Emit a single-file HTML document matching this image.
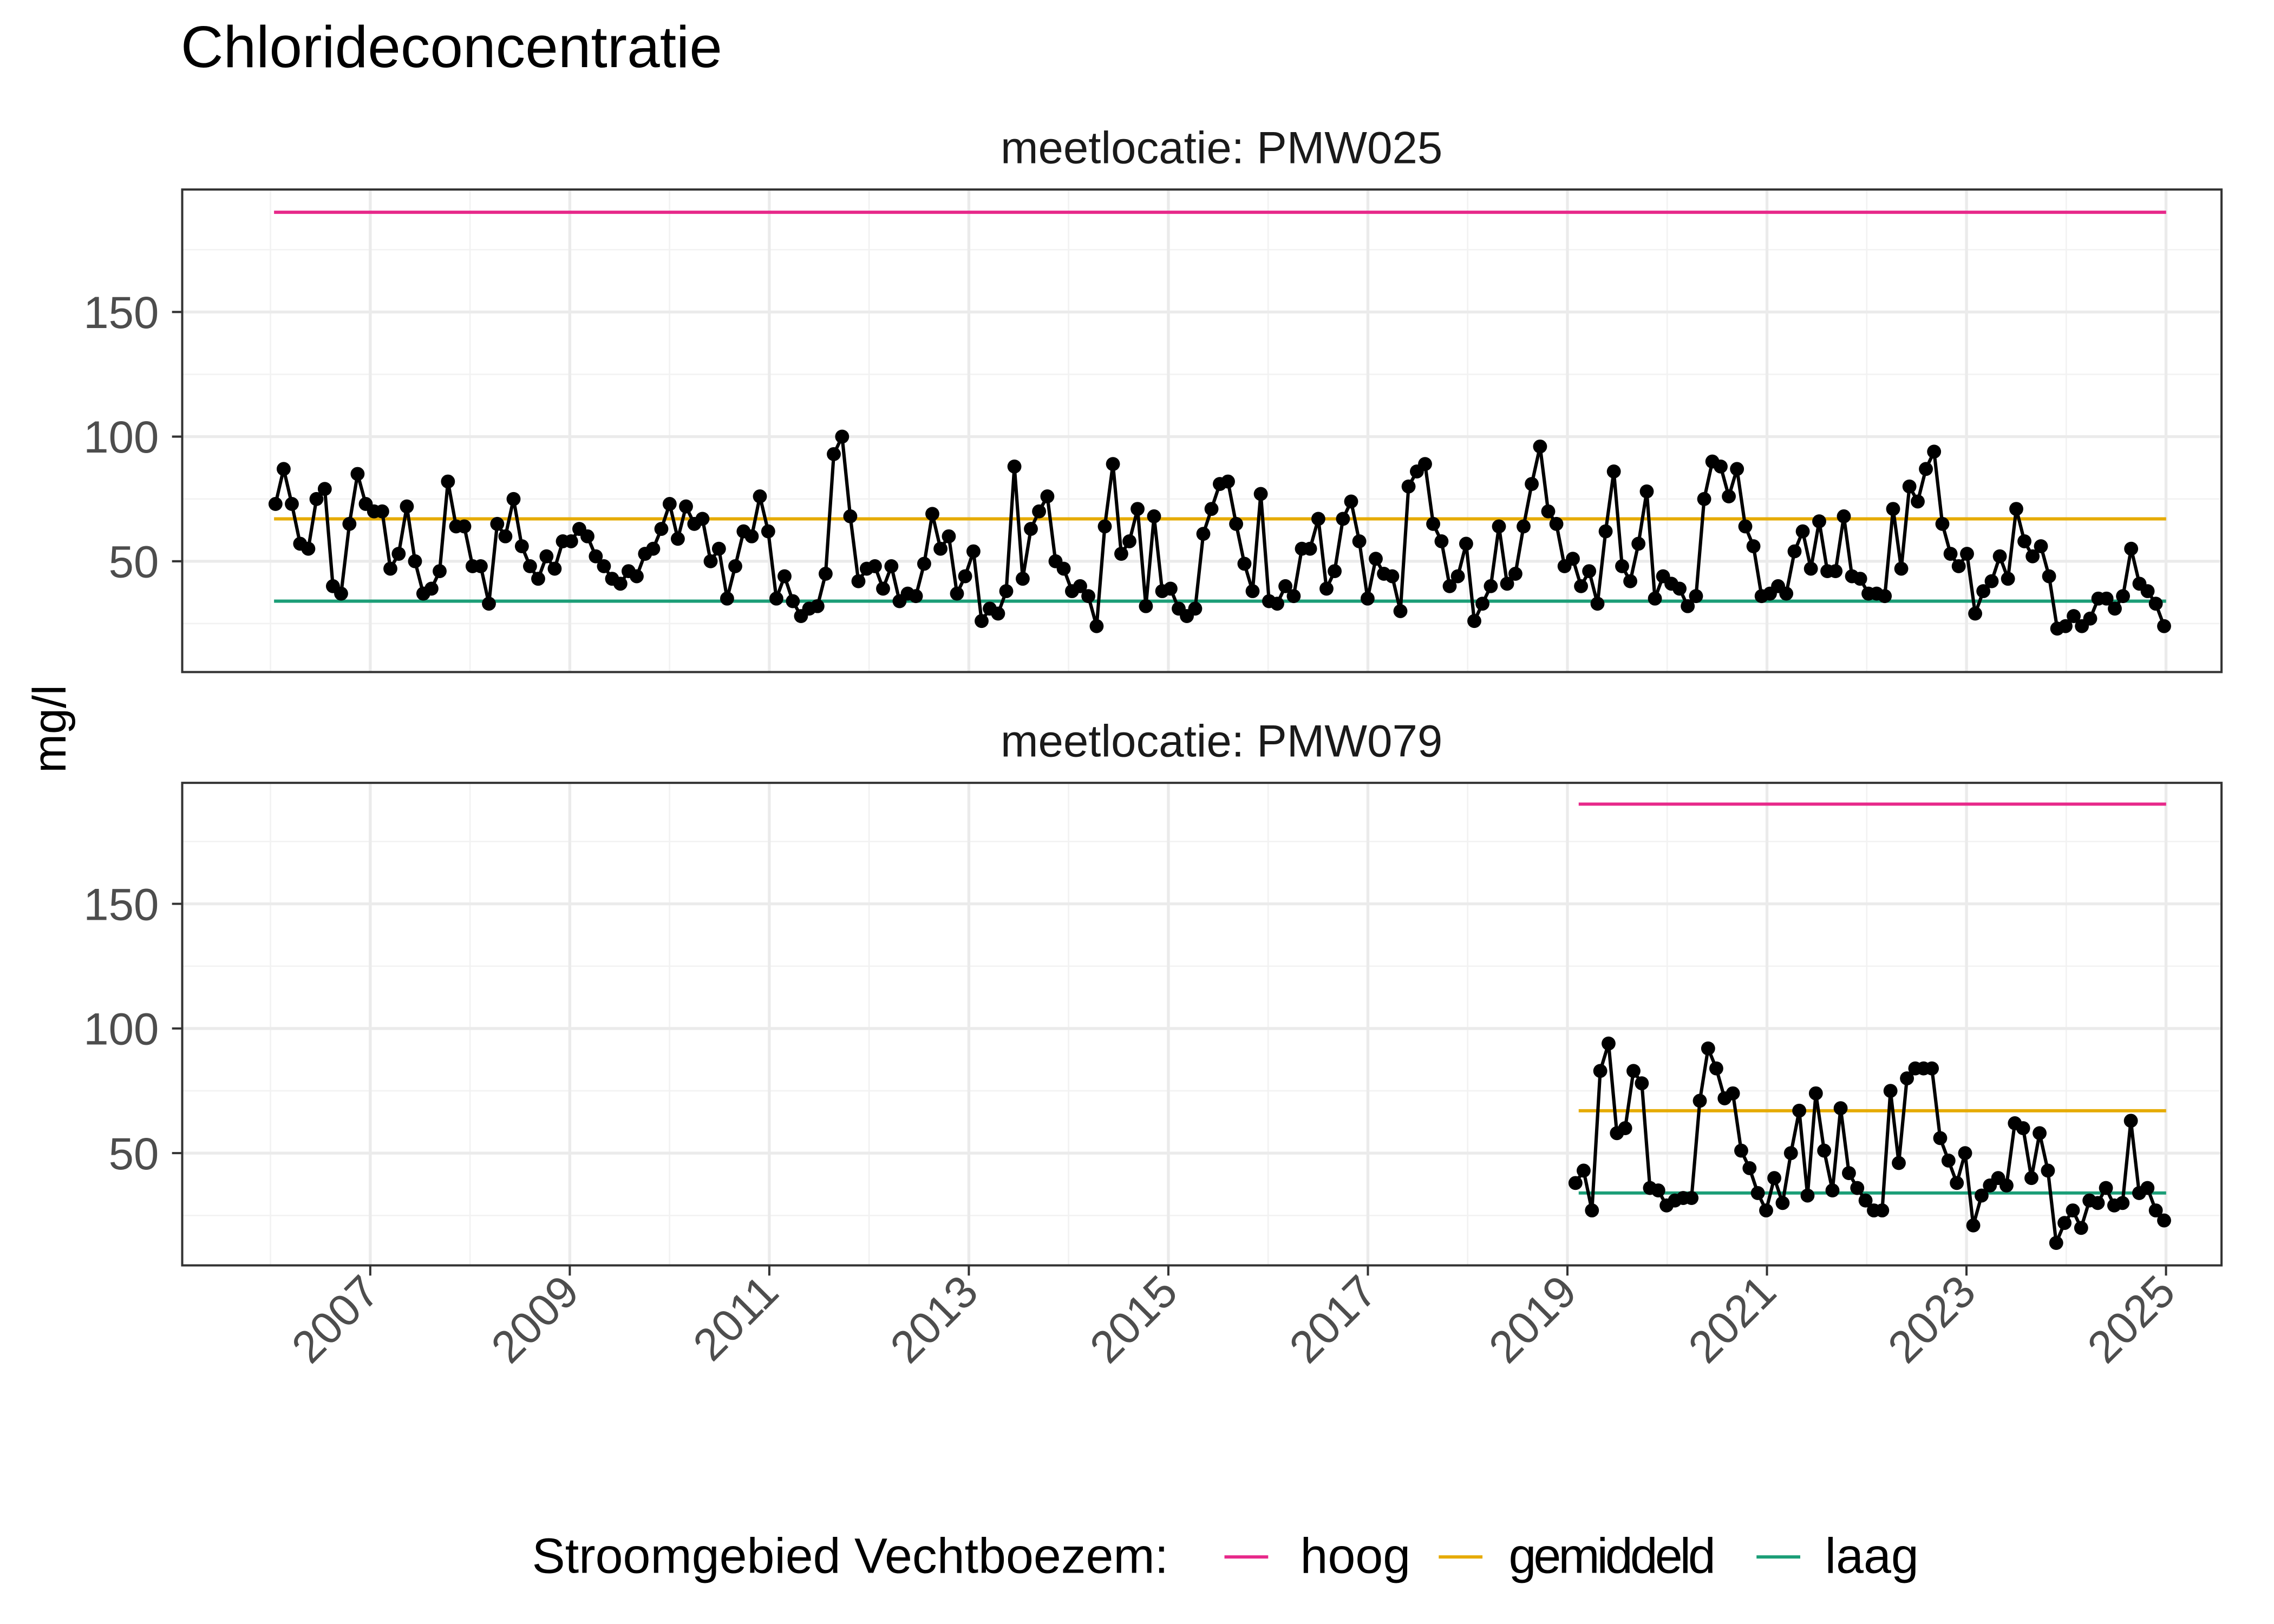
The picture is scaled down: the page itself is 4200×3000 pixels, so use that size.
<!DOCTYPE html>
<html><head><meta charset="utf-8"><style>html,body{margin:0;padding:0;background:#fff}svg{display:block}</style></head>
<body>
<svg id="s" width="4200" height="3000" viewBox="0 0 1560 1114" preserveAspectRatio="none" xmlns="http://www.w3.org/2000/svg" font-family="Liberation Sans, sans-serif">
<rect width="1560" height="1114" fill="#fff"/>
<text x="124" y="46" font-size="40.5" fill="#000">Chlorideconcentratie</text>
<text x="838" y="112" font-size="31" text-anchor="middle" fill="#1a1a1a">meetlocatie: PMW025</text>
<text x="838" y="519" font-size="31" text-anchor="middle" fill="#1a1a1a">meetlocatie: PMW079</text>
<text transform="translate(45,500) rotate(-90)" font-size="32" text-anchor="middle" fill="#000">mg/l</text>
<g id="g"></g>
<g font-size="34" fill="#000">
<text x="365" y="1079">Stroomgebied Vechtboezem:</text>
<line x1="840" y1="1068" x2="870" y2="1068" stroke="#e7298a" stroke-width="2.2"/><text x="892" y="1079">hoog</text>
<line x1="987" y1="1068" x2="1017" y2="1068" stroke="#e6ab02" stroke-width="2.2"/><text x="1035" y="1079" textLength="142">gemiddeld</text>
<line x1="1205" y1="1068" x2="1235" y2="1068" stroke="#1b9e77" stroke-width="2.2"/><text x="1252" y="1079">laag</text>
</g>
</svg>
<script>
var g=document.getElementById('g'),h='';
function X(t){return 254+(t-2007)*68.44;}
var P=[{top:130,bot:461,off:0},{top:537,bot:868,off:406}];
var d1=[73,87,73,57,55,75,79,40,37,65,85,73,70,70,47,53,72,50,37,39,46,82,64,64,48,48,33,65,60,75,56,48,43,52,47,58,58,63,60,52,48,43,41,46,44,53,55,63,73,59,72,65,67,50,55,35,48,62,60,76,62,35,44,34,28,31,32,45,93,100,68,42,47,48,39,48,34,37,36,49,69,55,60,37,44,54,26,31,29,38,88,43,63,70,76,50,47,38,40,36,24,64,89,53,58,71,32,68,38,39,31,28,31,61,71,81,82,65,49,38,77,34,33,40,36,55,55,67,39,46,67,74,58,35,51,45,44,30,80,86,89,65,58,40,44,57,26,33,40,64,41,45,64,81,96,70,65,48,51,40,46,33,62,86,48,42,57,78,35,44,41,39,32,36,75,90,88,76,87,64,56,36,37,40,37,54,62,47,66,46,46,68,44,43,37,37,36,71,47,80,74,87,94,65,53,48,53,29,38,42,52,43,71,58,52,56,44,23,24,28,24,27,35,35,31,36,55,41,38,33,24];
var d2=[38,43,27,83,94,58,60,83,78,36,35,29,31,32,32,71,92,84,72,74,51,44,34,27,40,30,50,67,33,74,51,35,68,42,36,31,27,27,75,46,80,84,84,84,56,47,38,50,21,33,37,40,37,62,60,40,58,43,14,22,27,20,31,30,36,29,30,63,34,36,27,23];
function series(d,t0,t1,off){var pts=[];for(var i=0;i<d.length;i++){var t=t0+(t1-t0)*i/(d.length-1);pts.push([X(t),385-(d[i]-50)*1.71+off]);}
var s='<polyline fill="none" stroke="#000" stroke-width="2.3" points="'+pts.map(p=>p[0].toFixed(1)+','+p[1].toFixed(1)).join(' ')+'"/>';
pts.forEach(p=>s+='<circle cx="'+p[0].toFixed(1)+'" cy="'+p[1].toFixed(1)+'" r="4.8" fill="#000"/>');return s;}
P.forEach(function(p,k){
 for(var v=25;v<=175;v+=50){var y=385-(v-50)*1.71+p.off;h+='<line x1="125" x2="1524" y1="'+y+'" y2="'+y+'" stroke="#f2f2f2" stroke-width="1"/>';}
 for(var yr=2006;yr<=2024;yr+=2){h+='<line y1="'+p.top+'" y2="'+p.bot+'" x1="'+X(yr)+'" x2="'+X(yr)+'" stroke="#f2f2f2" stroke-width="1"/>';}
 for(var v=50;v<=150;v+=50){var y=385-(v-50)*1.71+p.off;h+='<line x1="125" x2="1524" y1="'+y+'" y2="'+y+'" stroke="#ebebeb" stroke-width="2"/>';
  h+='<line x1="118" x2="125" y1="'+y+'" y2="'+y+'" stroke="#333" stroke-width="1.5"/><text x="109" y="'+(y+11)+'" font-size="31" text-anchor="end" fill="#4d4d4d">'+v+'</text>';}
 for(var yr=2007;yr<=2025;yr+=2){h+='<line y1="'+p.top+'" y2="'+p.bot+'" x1="'+X(yr)+'" x2="'+X(yr)+'" stroke="#ebebeb" stroke-width="2"/>';}
 var a=k==0?188:1083,y=function(v){return 385-(v-50)*1.71+p.off;};
 h+='<line x1="'+a+'" x2="1486" y1="'+y(190)+'" y2="'+y(190)+'" stroke="#e7298a" stroke-width="2.2"/>';
 h+='<line x1="'+a+'" x2="1486" y1="'+y(67)+'" y2="'+y(67)+'" stroke="#e6ab02" stroke-width="2.2"/>';
 h+='<line x1="'+a+'" x2="1486" y1="'+y(34)+'" y2="'+y(34)+'" stroke="#1b9e77" stroke-width="2.2"/>';
 h+=k==0?series(d1,2006.05,2024.98,0):series(d2,2019.08,2024.98,406);
 h+='<rect x="125" y="'+p.top+'" width="1399" height="'+(p.bot-p.top)+'" fill="none" stroke="#333" stroke-width="1.5"/>';
});
for(var yr=2007;yr<=2025;yr+=2){var x=X(yr);h+='<line x1="'+x+'" x2="'+x+'" y1="868" y2="875" stroke="#333" stroke-width="1.5"/><text transform="translate('+(x+8)+',888) rotate(-45)" font-size="31" text-anchor="end" fill="#4d4d4d">'+yr+'</text>';}
g.innerHTML=h;
</script>
</body></html>
